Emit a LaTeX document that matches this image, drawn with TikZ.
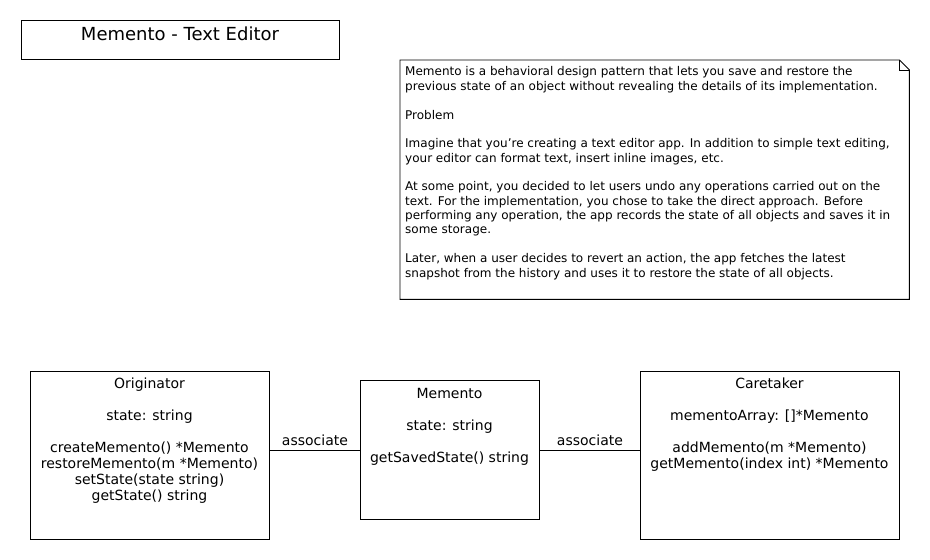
\documentclass[tikz,border=0pt]{standalone}
\usepackage{fontspec}
\setmainfont{DejaVu Sans}
\begin{document}
\begin{tikzpicture}[x=1pt,y=-1pt,
  frame/.style={draw=black,line width=0.9pt,inner sep=0pt,anchor=north west},
  clstext/.style={align=center,anchor=base,inner sep=0pt,font=\fontsize{14}{16}\selectfont},
  notetext/.style={align=left,anchor=base west,inner sep=0pt,font=\fontsize{12}{14.36}\selectfont},
  conn/.style={draw=black,line width=0.9pt},
  lbl/.style={midway,anchor=base,yshift=4pt,inner sep=0pt,font=\fontsize{14}{16}\selectfont}]
\fill[white] (0,0) rectangle (930,560);
\useasboundingbox (0,0) rectangle (930,560);

% title
\node[frame,minimum width=318pt,minimum height=39pt] (title) at (21,20) {};
\node[anchor=base,inner sep=0pt,font=\fontsize{18}{20}\selectfont] (titletext) at (180,40) {Memento - Text Editor};

% note
\node[inner sep=0pt,anchor=north west,minimum width=509pt,minimum height=239pt] (note) at (400,60) {};
\draw[line width=0.9pt] (note.north west) -- ([xshift=-10pt]note.north east) -- ([yshift=-10pt]note.north east) -- (note.south east) -- (note.south west) -- cycle;
\draw[line width=0.9pt] ([xshift=-10pt]note.north east) -- ([xshift=-10pt,yshift=-10pt]note.north east) -- ([yshift=-10pt]note.north east);
\node[notetext] (notetxt) at (405,277) {Memento is a behavioral design pattern that lets you save and restore the\\
previous state of an object without revealing the details of its implementation.\\[14.36pt]
Problem\\[14.36pt]
Imagine that you’re creating a text editor app. In addition to simple text editing,\\
your editor can format text, insert inline images, etc.\\[14.36pt]
At some point, you decided to let users undo any operations carried out on the\\
text. For the implementation, you chose to take the direct approach. Before\\
performing any operation, the app records the state of all objects and saves it in\\
some storage.\\[14.36pt]
Later, when a user decides to revert an action, the app fetches the latest\\
snapshot from the history and uses it to restore the state of all objects.};

% classes
\node[frame,minimum width=239pt,minimum height=168pt] (orig) at (30,371) {};
\node[clstext] (origtxt) at (149.5,500) {Originator\\[16pt]
state: string\\[16pt]
createMemento() *Memento\\
restoreMemento(m *Memento)\\
setState(state string)\\
getState() string};

\node[frame,minimum width=179pt,minimum height=139pt] (mem) at (360,380) {};
\node[clstext] (memtxt) at (449.5,462) {Memento\\[16pt]
state: string\\[16pt]
getSavedState() string};

\node[frame,minimum width=259pt,minimum height=168pt] (care) at (640,371) {};
\node[clstext] (caretxt) at (769.5,468) {Caretaker\\[16pt]
mementoArray: []*Memento\\[16pt]
addMemento(m *Memento)\\
getMemento(index int) *Memento};

% connectors
\draw[conn] (orig.east |- mem.west) -- node[lbl] {associate} (mem.west);
\draw[conn] (mem.east) -- node[lbl] {associate} (mem.east -| care.west);
\end{tikzpicture}
\end{document}
